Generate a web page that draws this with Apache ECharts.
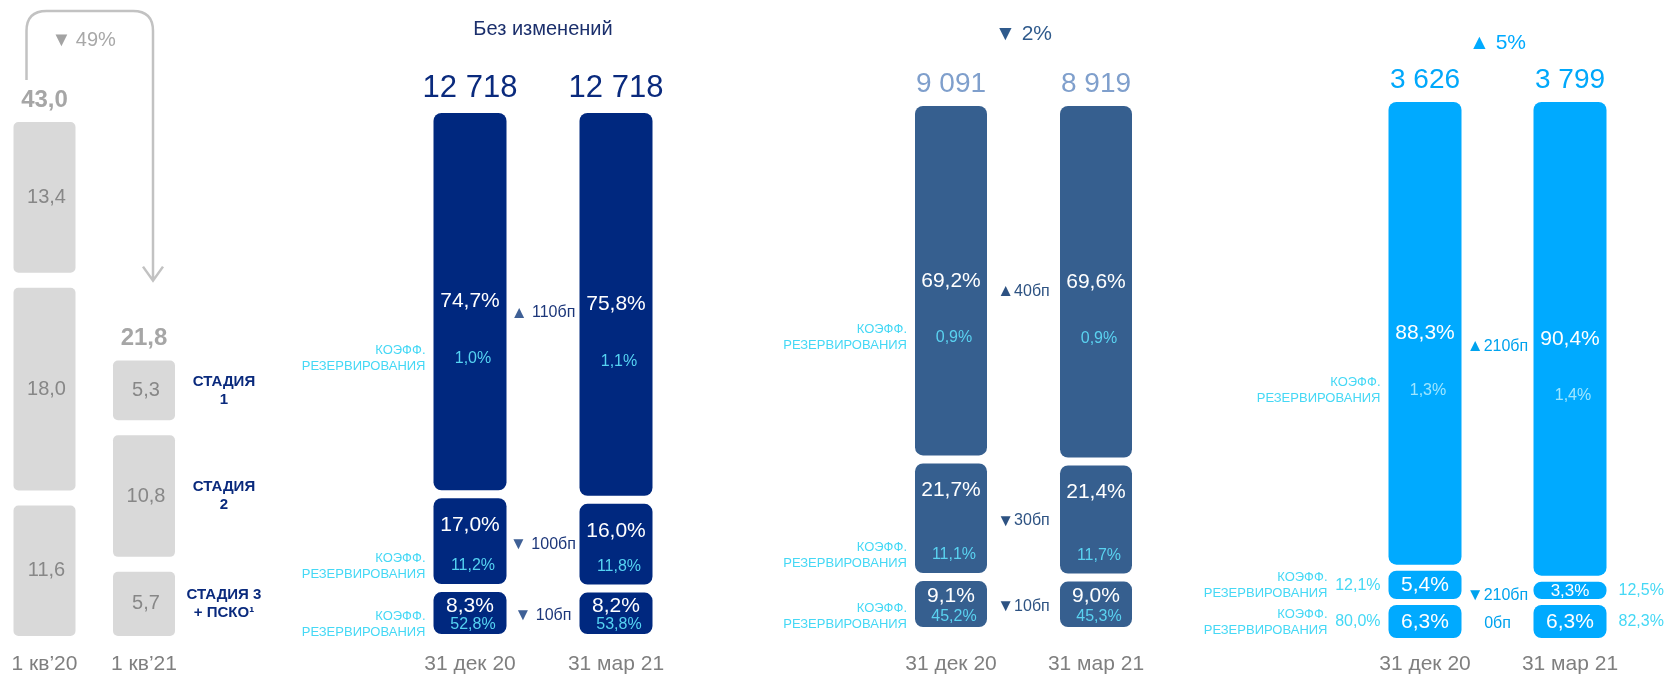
<!DOCTYPE html>
<html>
<head>
<meta charset="utf-8">
<script src="https://cdn.jsdelivr.net/npm/echarts@6/dist/echarts.min.js"></script>
<style>
  html, body { margin: 0; padding: 0; background: #ffffff; }
  #chart { width: 1668px; height: 674px; }
</style>
</head>
<body>
<div id="chart"></div>
<script>
// ---- Reserves by stage, bn RUB (stacked bottom → top: stage 3 + POCI, stage 2, stage 1)
const reservePeriods = ['1 кв’20', '1 кв’21'];
const reserveStages = [
  [11.6, 18.0, 13.4],
  [5.7, 10.8, 5.3]
];
const reserveChange = '49%';
const stageNames = ['СТАДИЯ 3\n+ ПСКО¹', 'СТАДИЯ\n2', 'СТАДИЯ\n1'];

// ---- Loan portfolios: stage shares (%), coverage ratios (%), totals
const periods = ['31 дек 20', '31 мар 21'];

const corpTotals = [12718, 12718];
const corpShares = [[8.3, 17.0, 74.7], [8.2, 16.0, 75.8]];
const corpCoverage = [[52.8, 11.2, 1.0], [53.8, 11.8, 1.1]];
const corpChange = 'Без изменений';

const retailTotals = [9091, 8919];
const retailShares = [[9.1, 21.7, 69.2], [9.0, 21.4, 69.6]];
const retailCoverage = [[45.2, 11.1, 0.9], [45.3, 11.7, 0.9]];
const retailChange = '▼ 2%';

const smeTotals = [3626, 3799];
const smeShares = [[6.3, 5.4, 88.3], [6.3, 3.3, 90.4]];
const smeCoverage = [[80.0, 12.1, 1.3], [82.3, 12.5, 1.4]];
const smeChange = '▲ 5%';

const coverageCaption = 'КОЭФФ.\nРЕЗЕРВИРОВАНИЯ';

// ---- helpers
const FONT = '"Liberation Sans", Arial, sans-serif';
const fmt1 = v => v.toFixed(1).replace('.', ',');
const pct = v => fmt1(v) + '%';
const thousands = n => String(n).replace(/\B(?=(\d{3})+(?!\d))/g, ' ');
function bpDelta(a, b) {
  const d = Math.round((b - a) * 100);
  if (d === 0) return { tri: '', text: '0бп' };
  return { tri: d > 0 ? '▲' : '▼', text: Math.abs(d) + 'бп' };
}
function txt(x, y, text, o) {
  return {
    type: 'text', x: x, y: y, z2: 10,
    style: Object.assign({
      text: text, fontFamily: FONT, fontSize: 16, fill: '#000',
      align: 'center', verticalAlign: 'middle'
    }, o || {})
  };
}
function stackRows(rows) {
  const out = [];
  rows.forEach((arr, c) => {
    let acc = 0;
    arr.forEach((v, s) => { out.push([c, acc, acc + v, s, v]); acc += v; });
  });
  return out;
}

// ---- layout of the four panels
const reserveLayout = {
  grid: { left: 44.5, width: 99.5, top: 73.2, bottom: 38 }, max: 50,
  gap: 15, barWidth: 62, radius: 5, color: '#d9d9d9'
};
const blueLayouts = [
  {
    shares: corpShares, coverage: corpCoverage, totals: corpTotals, change: corpChange,
    grid: { left: 470, width: 146, top: 129, bottom: 40 }, gap: 8, barWidth: 73, radius: 8,
    color: '#00287f', totalColor: '#0a2a7d', totalFont: 31, totalOffset: 25,
    ratioIn: '#55d3f2', deltaTri: '#3f6096', deltaText: '#1d377a', deltaSpace: ' ',
    headColor: '#1b2f6c', headFont: 20, headY: 29, compact: false
  },
  {
    shares: retailShares, coverage: retailCoverage, totals: retailTotals, change: retailChange,
    grid: { left: 951, width: 145, top: 122, bottom: 47 }, gap: 8, barWidth: 72, radius: 8,
    color: '#365f8f', totalColor: '#7f9fcc', totalFont: 28, totalOffset: 22,
    ratioIn: '#5ad2f0', deltaTri: '#2d5282', deltaText: '#2d5282', deltaSpace: '',
    headColor: '#2f5a8c', headFont: 21, headY: 34, compact: false
  },
  {
    shares: smeShares, coverage: smeCoverage, totals: smeTotals, change: smeChange,
    grid: { left: 1425, width: 145, top: 114, bottom: 36 }, gap: 6, barWidth: 73, radius: 8,
    color: '#00aaff', totalColor: '#00a8fb', totalFont: 28, totalOffset: 22,
    ratioIn: '#9fe6ff', deltaTri: '#00a3ee', deltaText: '#00a3ee', deltaSpace: '',
    headColor: '#00aaff', headFont: 21, headY: 43, compact: true
  }
];
const captionColor = '#45d8f5';
const ratioOutColor = '#45d8f5';

// ---- reserves panel
function reserveSeries() {
  const L = reserveLayout;
  const totals = reserveStages.map(a => a.reduce((s, v) => s + v, 0));
  const topIdx = reserveStages[0].length - 1;
  return {
    type: 'custom', xAxisIndex: 0, yAxisIndex: 0, clip: false,
    data: stackRows(reserveStages),
    renderItem(params, api) {
      const c = api.value(0), s = api.value(3), v = api.value(4);
      const p0 = api.coord([c, api.value(1)]);
      const p1 = api.coord([c, api.value(2)]);
      const cx = p0[0];
      const yb = p0[1] - s * L.gap, yt = p1[1] - s * L.gap;
      const w = L.barWidth;
      const kids = [
        { type: 'rect', shape: { x: cx - w / 2, y: yt, width: w, height: yb - yt, r: L.radius },
          style: { fill: L.color } },
        txt(cx + 2, (yt + yb) / 2, fmt1(v), { fill: '#878787', fontSize: 20 })
      ];
      if (s === topIdx) {
        kids.push(txt(cx, yt - 22, fmt1(totals[c]), { fill: '#a6a6a6', fontSize: 24, fontWeight: 'bold' }));
      }
      if (c === 1) {
        kids.push(txt(cx + w / 2 + 49, (yt + yb) / 2, stageNames[s],
          { fill: '#0a2a7d', fontSize: 15, fontWeight: 'bold', lineHeight: 18 }));
      }
      if (c === 0 && s === topIdx) {
        // curved arrow from the first total to the second one
        const top0 = yt;
        const p = api.coord([1, totals[1]]);
        const top1 = p[1] - topIdx * L.gap;
        const lx = cx - 18, rx = p[0] + 9;
        const sy = top0 - 42, ty = 11, ey = top1 - 80, r = 20;
        kids.push({
          type: 'path',
          shape: { pathData:
            'M' + lx + ' ' + sy + ' L' + lx + ' ' + (ty + r) +
            ' Q' + lx + ' ' + ty + ' ' + (lx + r) + ' ' + ty +
            ' L' + (rx - r) + ' ' + ty +
            ' Q' + rx + ' ' + ty + ' ' + rx + ' ' + (ty + r) +
            ' L' + rx + ' ' + ey +
            ' M' + (rx - 10) + ' ' + (ey - 14) + ' L' + rx + ' ' + ey + ' L' + (rx + 10) + ' ' + (ey - 14) },
          style: { fill: null, stroke: '#c2c2c2', lineWidth: 2.5 }
        });
        kids.push(txt((lx + rx) / 2 - 6, 40, '{t|▼} {v|' + reserveChange + '}', {
          rich: {
            t: { fill: '#a3a3a3', fontSize: 20, fontFamily: FONT },
            v: { fill: '#a8a8a8', fontSize: 20, fontFamily: FONT }
          }
        }));
      }
      return { type: 'group', children: kids };
    }
  };
}

// ---- portfolio panels
function shareSeries(g, gi) {
  const topIdx = 2;
  const cum = (c, s) => {
    let a = 0;
    for (let i = 0; i < s; i++) a += g.shares[c][i];
    return [a, a + g.shares[c][s]];
  };
  return {
    type: 'custom', xAxisIndex: gi, yAxisIndex: gi, clip: false,
    data: stackRows(g.shares),
    renderItem(params, api) {
      const c = api.value(0), s = api.value(3), v = api.value(4);
      const p0 = api.coord([c, api.value(1)]);
      const p1 = api.coord([c, api.value(2)]);
      const cx = p0[0];
      const yb = p0[1] - s * g.gap, yt = p1[1] - s * g.gap;
      const h = yb - yt, w = g.barWidth;
      const left = cx - w / 2, right = cx + w / 2;
      const kids = [{
        type: 'rect', shape: { x: left, y: yt, width: w, height: h, r: Math.min(g.radius, h / 2) },
        style: { fill: g.color }
      }];

      const ratioText = pct(g.coverage[c][s]);
      let mainY, ratioY, ratioOutside = false;
      if (s === topIdx) {
        mainY = (yt + yb) / 2; ratioY = mainY + 57;
      } else if (g.compact) {
        mainY = (yt + yb) / 2 + 0.5; ratioY = mainY; ratioOutside = true;
      } else if (s === 1) {
        mainY = yt + 27; ratioY = yb - 18;
      } else {
        mainY = yt + 0.33 * h; ratioY = yt + 0.78 * h;
      }
      // a thin segment gets a slightly smaller figure so it stays inside the bar
      const mainSize = h < 24 ? Math.max(15, Math.round(h)) : 21;
      kids.push(txt(cx, mainY, pct(v), { fill: '#ffffff', fontSize: mainSize }));
      if (ratioOutside) {
        kids.push(c === 0
          ? txt(left - 8, ratioY, ratioText, { fill: ratioOutColor, fontSize: 16, align: 'right' })
          : txt(right + 12, ratioY, ratioText, { fill: ratioOutColor, fontSize: 16, align: 'left' }));
      } else {
        kids.push(txt(cx + 3, ratioY, ratioText, { fill: g.ratioIn, fontSize: 16 }));
      }

      if (c === 0) {
        kids.push(txt(ratioOutside ? left - 61 : left - 8, ratioY, coverageCaption,
          { fill: captionColor, fontSize: 13, align: 'right', lineHeight: 16 }));

        // change between the two dates, in basis points
        const other = cum(1, s);
        const q0 = api.coord([1, other[0]]), q1 = api.coord([1, other[1]]);
        const oc = (q0[1] + q1[1]) / 2 - s * g.gap;
        const avg = ((yt + yb) / 2 + oc) / 2;
        let dy;
        if (s === topIdx) dy = avg + 10;
        else if (g.compact && s === 1) dy = avg + 8;
        else dy = avg + 2;
        const d = bpDelta(g.shares[0][s], g.shares[1][s]);
        const dx = (cx + q0[0]) / 2;
        const label = d.tri ? '{t|' + d.tri + '}' + g.deltaSpace + '{v|' + d.text + '}' : '{v|' + d.text + '}';
        kids.push(txt(dx, dy, label, {
          fontSize: 16,
          rich: {
            t: { fill: g.deltaTri, fontSize: 17, fontFamily: FONT },
            v: { fill: g.deltaText, fontSize: 16, fontFamily: FONT }
          }
        }));

        if (s === topIdx) {
          kids.push(txt(dx, g.headY, g.change, { fill: g.headColor, fontSize: g.headFont }));
        }
      }
      if (s === topIdx) {
        kids.push(txt(cx, yt - g.totalOffset, thousands(g.totals[c]),
          { fill: g.totalColor, fontSize: g.totalFont }));
      }
      return { type: 'group', children: kids };
    }
  };
}

// ---- axes & grids
const grids = [reserveLayout.grid].concat(blueLayouts.map(g => g.grid))
  .map(gr => Object.assign({ outerBoundsMode: 'none', containLabel: false }, gr));
const cats = [reservePeriods, periods, periods, periods];
const maxes = [reserveLayout.max, 100, 100, 100];

const xAxes = grids.map((gr, i) => ({
  type: 'category', gridIndex: i, data: cats[i], boundaryGap: false,
  axisLine: { show: false }, axisTick: { show: false }, splitLine: { show: false },
  axisLabel: { color: '#7f7f7f', fontSize: 21, fontFamily: FONT, margin: gr.bottom - 20.5 }
}));
const yAxes = grids.map((gr, i) => ({
  type: 'value', gridIndex: i, min: 0, max: maxes[i], show: false, splitLine: { show: false }
}));

const chart = echarts.init(document.getElementById('chart'));
chart.setOption({
  animation: false,
  backgroundColor: '#ffffff',
  textStyle: { fontFamily: FONT },
  grid: grids,
  xAxis: xAxes,
  yAxis: yAxes,
  series: [reserveSeries()].concat(blueLayouts.map((g, i) => shareSeries(g, i + 1)))
});
</script>
</body>
</html>
